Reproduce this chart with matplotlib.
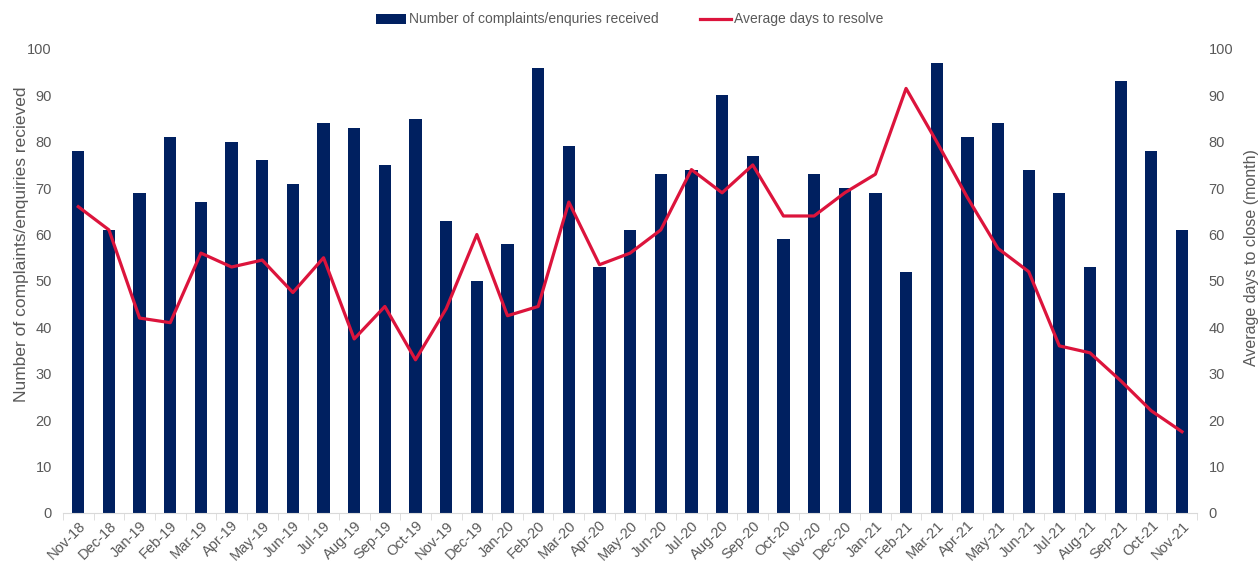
import matplotlib.pyplot as plt
import numpy as np

plt.rcParams['font.family'] = ['Liberation Sans', 'DejaVu Sans']

months = ['Nov-18', 'Dec-18', 'Jan-19', 'Feb-19', 'Mar-19', 'Apr-19', 'May-19', 'Jun-19',
          'Jul-19', 'Aug-19', 'Sep-19', 'Oct-19', 'Nov-19', 'Dec-19', 'Jan-20', 'Feb-20',
          'Mar-20', 'Apr-20', 'May-20', 'Jun-20', 'Jul-20', 'Aug-20', 'Sep-20', 'Oct-20',
          'Nov-20', 'Dec-20', 'Jan-21', 'Feb-21', 'Mar-21', 'Apr-21', 'May-21', 'Jun-21',
          'Jul-21', 'Aug-21', 'Sep-21', 'Oct-21', 'Nov-21']
complaints = [78, 61, 69, 81, 67, 80, 76, 71, 84, 83, 75, 85, 63, 50, 58, 96, 79, 53, 61,
              73, 74, 90, 77, 59, 73, 70, 69, 52, 97, 81, 84, 74, 69, 53, 93, 78, 61]
avg_days = [66, 61, 42, 41, 56, 53, 54.5, 47.5, 55, 37.5, 44.5, 33, 44, 60, 42.5, 44.5,
            67, 53.5, 56, 61, 74, 69, 75, 64, 64, 69, 73, 91.5, 80, 68, 57, 52, 36, 34.5,
            28.5, 22, 17.5]

navy = '#002060'
red = '#DC143C'
grey = '#595959'

fig = plt.figure(figsize=(12.59, 5.63), dpi=100)
ax = fig.add_axes([0.050, 0.089, 0.901, 0.824])
ax2 = ax.twinx()

x = np.arange(len(months))
bars = ax.bar(x, complaints, width=0.4, color=navy, zorder=2,
              label='Number of complaints/enquries received')
line, = ax2.plot(x, avg_days, color=red, linewidth=2.3, zorder=3,
                 label='Average days to resolve')

ax.set_xlim(-0.5, len(months) - 0.5)
for a in (ax, ax2):
    a.set_ylim(0, 100)
    a.set_yticks(range(0, 101, 10))
    a.tick_params(axis='y', length=0, labelsize=10.5, labelcolor=grey, pad=8)
    for s in ['top', 'left', 'right']:
        a.spines[s].set_visible(False)
ax2.spines['bottom'].set_visible(False)
ax.spines['bottom'].set_color('#D9D9D9')

ax.set_xticks(x)
ax.set_xticklabels(months, rotation=45, ha='right', rotation_mode='anchor',
                   fontsize=10.5, color=grey)
ax.tick_params(axis='x', length=0, pad=4)
ax.set_xticks(np.arange(-0.5, len(months)), minor=True)
ax.tick_params(axis='x', which='minor', length=5, color='#D9D9D9')

ax.set_ylabel('Number of complaints/enquiries recieved', fontsize=12.5, color=grey)
ax2.set_ylabel('Average days to close (month)', fontsize=11.5, color=grey)
ax.yaxis.set_label_coords(-0.03, 0.58)
ax2.yaxis.set_label_coords(1.041, 0.55)

ax.set_zorder(1)
ax2.set_zorder(2)
ax2.patch.set_visible(False)

fig.legend([bars, line], [bars.get_label(), line.get_label()], loc='upper center',
           bbox_to_anchor=(0.5, 1.0), ncol=2, frameon=False, fontsize=10,
           labelcolor=grey, handlelength=2.2, handletextpad=0.2, columnspacing=3)

fig.savefig('out.png', dpi=100)
